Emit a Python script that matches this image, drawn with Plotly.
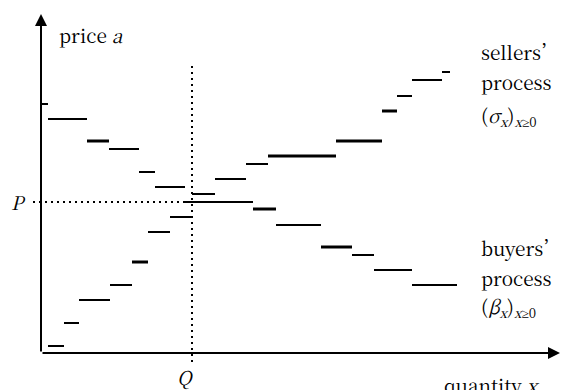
import plotly.graph_objects as go

# ---- data (quantity x, price a) ----
buyers_x0 = [0.7, 4.6, 6.8, 9.8, 11.4, 14.4, 21.2, 23.5, 28.0, 31.1, 33.3, 37.1]
buyers_x1 = [4.6, 6.8, 9.8, 11.4, 14.4, 21.2, 23.5, 28.0, 31.1, 33.3, 37.1, 41.6]
buyers_price = [23.4, 21.2, 20.4, 18.1, 16.6, 15.1, 14.4, 12.8, 10.6, 9.8, 8.3, 6.8]
buyers_heavy = [False, True, False, False, False, False, True, False, True, False, False, False]

sellers_x0 = [0.7, 2.3, 3.8, 6.9, 9.1, 10.7, 12.9, 15.1, 17.4, 20.5, 22.7, 29.5, 34.1, 35.6, 37.1, 40.1]
sellers_x1 = [2.3, 3.8, 6.9, 9.1, 10.7, 12.9, 15.2, 17.4, 20.5, 22.7, 29.5, 34.1, 35.6, 37.1, 40.1, 40.9]
sellers_price = [0.7, 3.0, 5.3, 6.8, 9.1, 12.1, 13.6, 15.9, 17.4, 18.9, 19.7, 21.2, 24.2, 25.7, 27.3, 28.1]
sellers_heavy = [False, False, False, False, True, False, False, False, False, False, True, True, True, False, False, False]

tick_price = 24.9
P = 15.1
Q = 15.1

fig = go.Figure()

def add_segments(x0s, x1s, ys, heavy):
    for a, b, y, h in zip(x0s, x1s, ys, heavy):
        fig.add_trace(go.Scatter(x=[a, b], y=[y, y], mode="lines",
                                 line=dict(color="black", width=3 if h else 2),
                                 hoverinfo="skip", showlegend=False))

add_segments(buyers_x0, buyers_x1, buyers_price, buyers_heavy)
add_segments(sellers_x0, sellers_x1, sellers_price, sellers_heavy)

# tick on price axis
fig.add_trace(go.Scatter(x=[0, 0.7], y=[tick_price, tick_price], mode="lines",
                         line=dict(color="black", width=2), hoverinfo="skip", showlegend=False))

# dotted guides
fig.add_trace(go.Scatter(x=[Q, Q], y=[-0.9, 29.0], mode="lines",
                         line=dict(color="black", width=2, dash="2px,4px"),
                         hoverinfo="skip", showlegend=False))
fig.add_trace(go.Scatter(x=[-0.8, Q], y=[P, P], mode="lines",
                         line=dict(color="black", width=2, dash="2px,4px"),
                         hoverinfo="skip", showlegend=False))

# axes with arrows
for (tx, ty) in [(51.9, 0), (0, 33.9)]:
    fig.add_annotation(x=tx, y=ty, ax=0, ay=0, xref="x", yref="y", axref="x", ayref="y",
                       text="", showarrow=True, arrowhead=2, arrowsize=1.2, arrowwidth=2,
                       arrowcolor="black", standoff=0)

font = dict(family="Noto Serif CJK SC", size=19, color="black")
ge = "<span style='font-family:Liberation Serif'>≥</span>"
labels = [
    ("price <i>a</i>", 1.6, 31.9, "left"),
    ("sellers’", 43.8, 30.2, "left"),
    ("process", 43.8, 27.2, "left"),
    ("(<i>σ<sub>x</sub></i>)<sub><i>x</i>" + ge + "0</sub>", 43.8, 23.7, "left"),
    ("buyers’", 43.8, 10.6, "left"),
    ("process", 43.8, 7.6, "left"),
    ("(<i>β<sub>x</sub></i>)<sub><i>x</i>" + ge + "0</sub>", 43.8, 4.6, "left"),
    ("<i>P</i>", -2.3, P + 0.1, "center"),
    ("<i>Q</i>", 14.4, -2.3, "center"),
    ("quantity <i>x</i>", 40.1, -3.1, "left"),
]
for t, x, y, xa in labels:
    fig.add_annotation(x=x, y=y, xref="x", yref="y", text=t, showarrow=False,
                       xanchor=xa, yanchor="middle", font=font)

fig.update_layout(
    width=561, height=390, autosize=False,
    margin=dict(l=0, r=0, t=0, b=0, pad=0),
    paper_bgcolor="white", plot_bgcolor="white",
    xaxis=dict(range=[-4.1, 52.0], visible=False, fixedrange=True),
    yaxis=dict(range=[-3.7, 35.3], visible=False, fixedrange=True),
)

fig.write_html("out.html", config={"responsive": False, "displayModeBar": False},
               post_script="document.body.style.margin='0';document.body.style.overflow='hidden';")
